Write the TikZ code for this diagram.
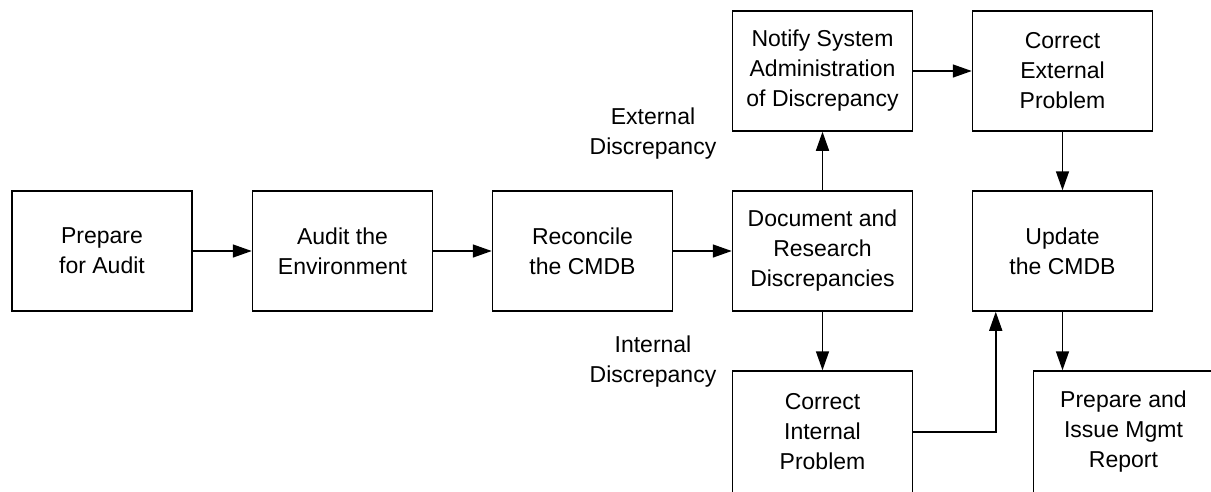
\documentclass[tikz,border=0pt]{standalone}
\usepackage{fontspec}
\setmainfont{Liberation Sans}
\usetikzlibrary{arrows.meta}
\begin{document}
\begin{tikzpicture}[x=1pt,y=-1pt,
  procbox/.style={draw,line width=1.5pt,minimum width=180pt,minimum height=120pt,
    align=center,inner sep=0pt,font=\fontsize{23}{30}\selectfont},
  caption/.style={align=center,font=\fontsize{23}{30}\selectfont},
  flow/.style={line width=1.5pt,-{Triangle[length=19pt,width=13pt]}}]
\useasboundingbox[fill=white] (0,0) rectangle (1211,491);
% main row
\node[procbox] (prep)   at (102,251)    {Prepare\\for Audit};
\node[procbox] (audit)  at (342.5,251)  {Audit the\\Environment};
\node[procbox] (recon)  at (582.5,251)  {Reconcile\\the CMDB};
\node[procbox] (docres) at (822.5,251)  {Document and\\Research\\Discrepancies};
% external branch
\node[procbox] (notify) at (822.5,71)   {Notify System\\Administration\\of Discrepancy};
\node[procbox] (extfix) at (1062.5,71)  {Correct\\External\\Problem};
\node[procbox] (update) at (1062.5,251) {Update\\the CMDB};
% internal branch and report, running off the lower edge
\node[procbox,minimum height=122pt] (intfix) at (822.5,432)  {Correct\\Internal\\Problem};
\node[procbox,minimum height=122pt] (report) at (1123.5,432) {Prepare and\\Issue Mgmt\\Report};
% branch captions
\node[caption] (extlbl) at (653,134) {External\\Discrepancy};
\node[caption] (intlbl) at (653,362) {Internal\\Discrepancy};
% connectors
\draw[flow] (prep.east) -- (audit.west);
\draw[flow] (audit.east) -- (recon.west);
\draw[flow] (recon.east) -- (docres.west);
\draw[flow] (docres.north) -- (notify.south);
\draw[flow] (docres.south) -- (intfix.north);
\draw[flow] (notify.east) -- (extfix.west);
\draw[flow] (extfix.south) -- (update.north);
\coordinate (join) at ([xshift=24pt]update.south west);
\draw[flow] (intfix.east) -| (join);
\draw[flow] (update.south) -- (update.south |- report.north);
\end{tikzpicture}
\end{document}
